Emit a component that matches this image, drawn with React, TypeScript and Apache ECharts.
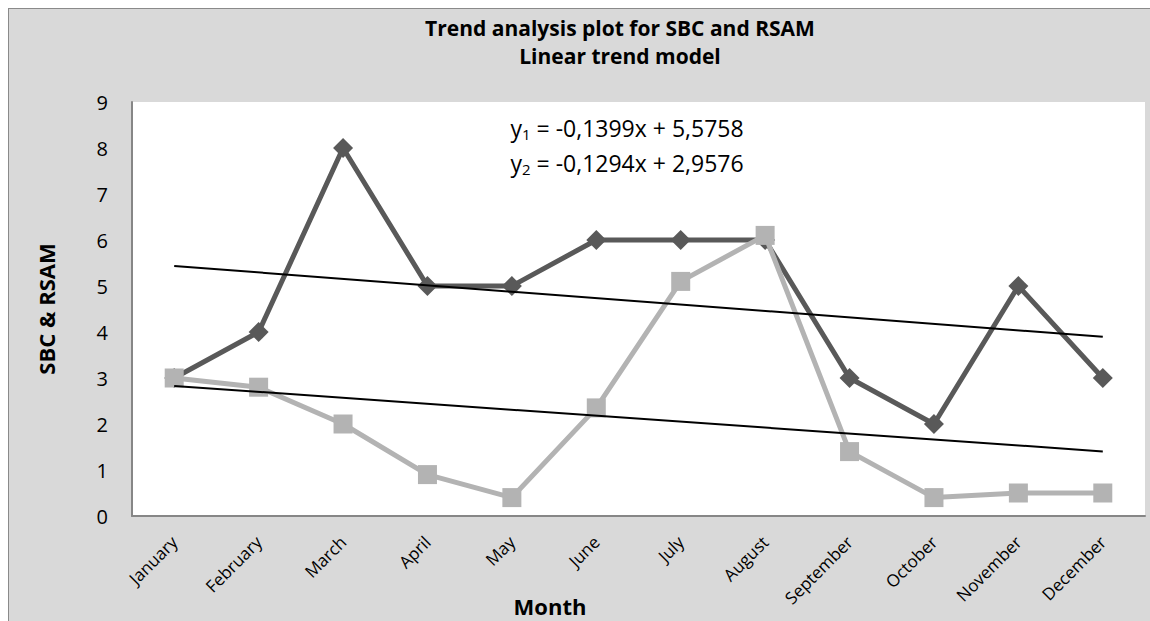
import React, { useEffect, useRef } from "react";
import * as echarts from "echarts";

const months = [
  "January", "February", "March", "April", "May", "June",
  "July", "August", "September", "October", "November", "December",
];
const sbc = [3, 4, 8, 5, 5, 6, 6, 6, 3, 2, 5, 3];
const rsam = [3, 2.8, 2, 0.9, 0.4, 2.35, 5.1, 6.1, 1.4, 0.4, 0.5, 0.5];
// trend lines: y = slope * x + intercept, x = 1..12
const trend1Slope = -0.1399;
const trend1Intercept = 5.5758;
const trend2Slope = -0.1294;
const trend2Intercept = 2.9576;
const eq1 = ["y", "1", " = -0,1399x + 5,5758"];
const eq2 = ["y", "2", " = -0,1294x + 2,9576"];
const titleLines = ["Trend analysis plot for SBC and RSAM", "Linear trend model"];
const yAxisName = "SBC & RSAM";
const xAxisName = "Month";

const FONT = "'Open Sans', 'Liberation Sans', sans-serif";

export default function App() {
  const ref = useRef<HTMLDivElement>(null);
  useEffect(() => {
    document.body.style.overflow = "hidden";
    const chart = echarts.init(ref.current!, undefined, { renderer: "svg" });
    const n = months.length;
    const t1 = [
      [months[0], trend1Slope * 1 + trend1Intercept],
      [months[n - 1], trend1Slope * n + trend1Intercept],
    ];
    const t2 = [
      [months[0], trend2Slope * 1 + trend2Intercept],
      [months[n - 1], trend2Slope * n + trend2Intercept],
    ];
    const eqText = (e: string[]) => `{a|${e[0]}}{s|${e[1]}}{a|${e[2]}}`;
    const rich = {
      a: { fontFamily: FONT, fontSize: 23, fill: "#000", color: "#000" },
      s: { fontFamily: FONT, fontSize: 15, fill: "#000", color: "#000", padding: [12, 0, 0, 0] },
    };
    chart.setOption({
      animation: false,
      backgroundColor: "#d9d9d9",
      textStyle: { fontFamily: FONT },
      grid: { left: 123, top: 93, width: 1013, height: 414, backgroundColor: "#fff", show: true, borderWidth: 0 },
      xAxis: {
        type: "category",
        data: months,
        boundaryGap: true,
        axisLine: { lineStyle: { color: "#868686", width: 2 } },
        axisTick: { show: false },
        axisLabel: { rotate: 45, interval: 0, fontSize: 17, color: "#000", margin: 23, fontFamily: FONT },
      },
      yAxis: {
        type: "value",
        min: 0,
        max: 9,
        interval: 1,
        name: yAxisName,
        nameLocation: "middle",
        nameGap: 75,
        nameRotate: 90,
        nameTextStyle: { fontSize: 22, fontWeight: "bold", color: "#000", fontFamily: FONT },
        axisLine: { show: true, lineStyle: { color: "#868686", width: 2 } },
        axisTick: { show: false },
        splitLine: { show: false },
        axisLabel: { fontSize: 20, color: "#000", margin: 24, fontFamily: FONT },
      },
      series: [
        {
          name: "SBC",
          type: "line",
          data: sbc,
          symbol: "diamond",
          symbolSize: 20,
          lineStyle: { color: "#595959", width: 5 },
          itemStyle: { color: "#595959" },
          z: 2,
        },
        {
          name: "RSAM",
          type: "line",
          data: rsam,
          symbol: "rect",
          symbolSize: 19,
          lineStyle: { color: "#b3b3b3", width: 5 },
          itemStyle: { color: "#b3b3b3" },
          z: 3,
        },
        {
          name: "trend1",
          type: "line",
          data: t1,
          symbol: "none",
          lineStyle: { color: "#000", width: 2 },
          z: 4,
        },
        {
          name: "trend2",
          type: "line",
          data: t2,
          symbol: "none",
          lineStyle: { color: "#000", width: 2 },
          z: 4,
        },
      ],
      graphic: [
        {
          type: "text",
          x: 611,
          y: 19,
          style: { text: titleLines[0], textAlign: "center", textVerticalAlign: "middle", font: `bold 21px ${FONT}`, fill: "#000" },
        },
        {
          type: "text",
          x: 611,
          y: 47,
          style: { text: titleLines[1], textAlign: "center", textVerticalAlign: "middle", font: `bold 21px ${FONT}`, fill: "#000" },
        },
        {
          type: "text",
          x: 618,
          y: 119,
          z: 10,
          style: { text: eqText(eq1), rich, textAlign: "center", textVerticalAlign: "middle" },
        },
        {
          type: "text",
          x: 618,
          y: 154,
          z: 10,
          style: { text: eqText(eq2), rich, textAlign: "center", textVerticalAlign: "middle" },
        },
        {
          type: "text",
          x: 541,
          y: 597,
          style: { text: xAxisName, textAlign: "center", textVerticalAlign: "middle", font: `bold 22px ${FONT}`, fill: "#000" },
        },
      ],
    });
    return () => chart.dispose();
  }, []);
  return (
    <div style={{ position: "fixed", left: 8, top: 8, borderTop: "1px solid #8a8a8a", borderLeft: "1px solid #8a8a8a", width: 1200, height: 650, background: "#d9d9d9" }}>
      <div ref={ref} style={{ width: 1200, height: 650 }} />
    </div>
  );
}
